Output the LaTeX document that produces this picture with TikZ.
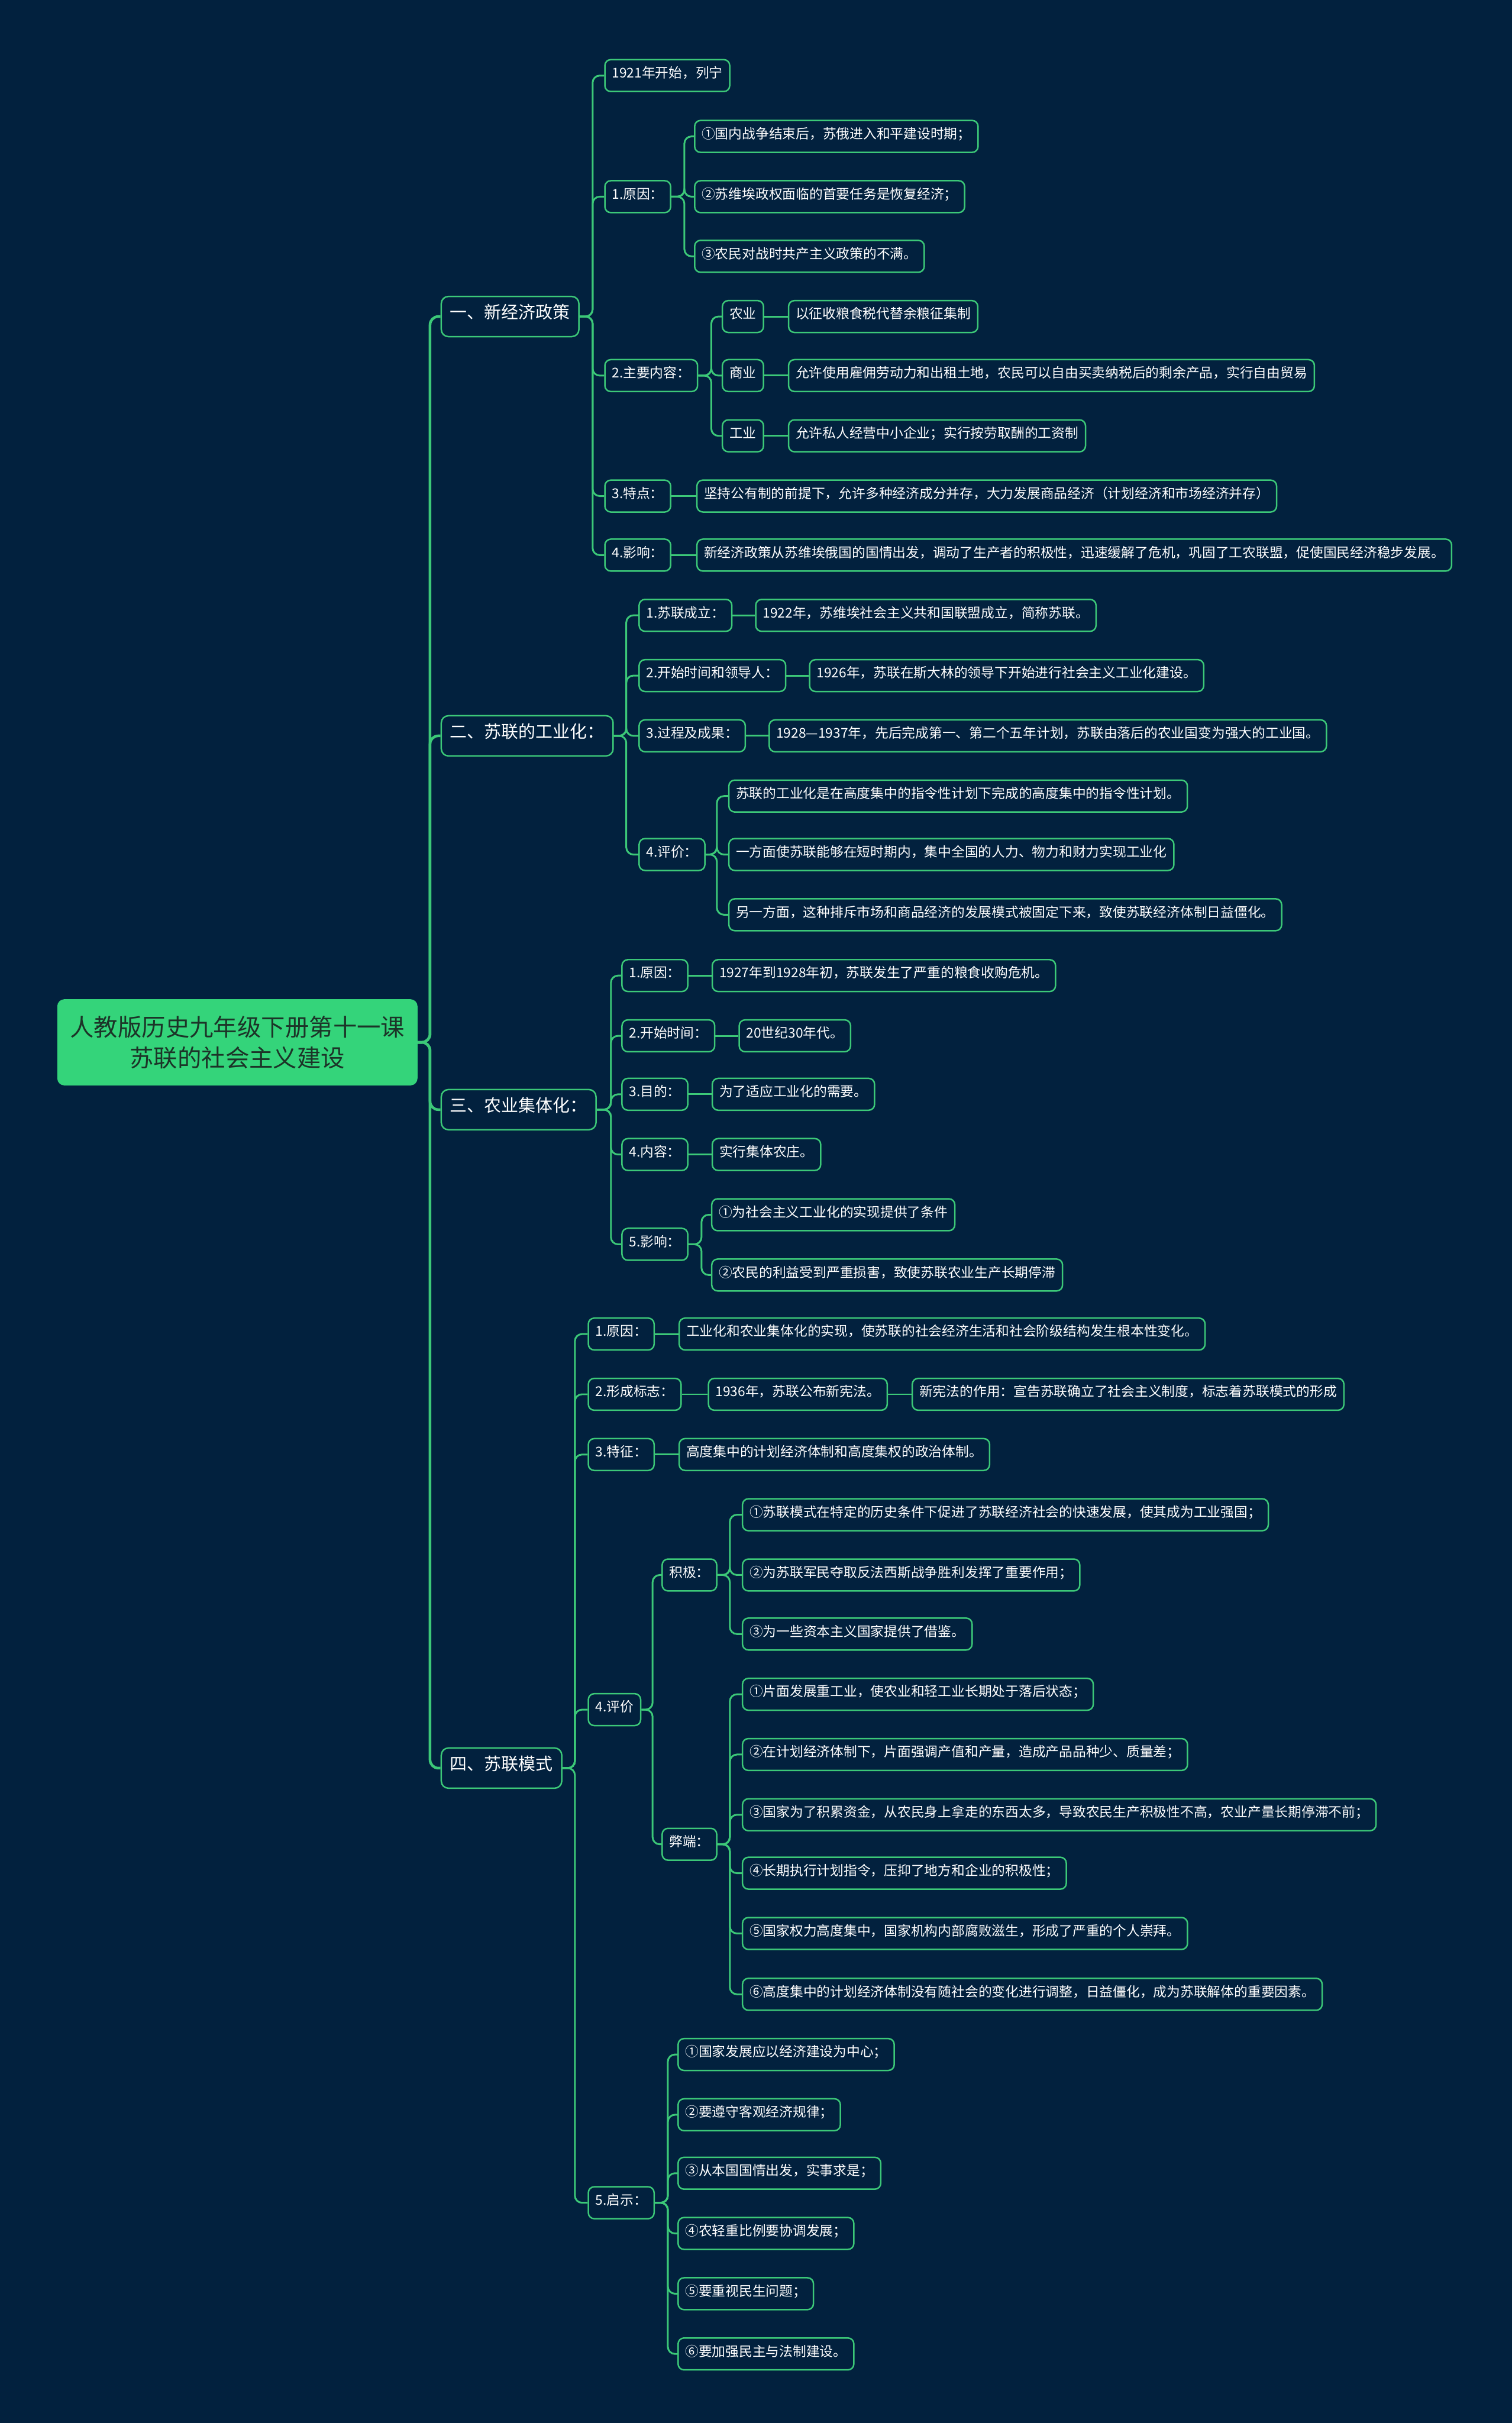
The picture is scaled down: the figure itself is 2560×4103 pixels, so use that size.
\documentclass[tikz,border=0pt]{standalone}
\usepackage{fontspec}
\setmainfont{Noto Sans CJK SC}
\usetikzlibrary{positioning}
\definecolor{navy}{RGB}{2,33,62}
\definecolor{mint}{RGB}{60,200,120}
\definecolor{rootgreen}{RGB}{52,212,122}
\definecolor{rootink}{RGB}{28,52,40}
\begin{document}
\begin{tikzpicture}[x=1pt,y=-1pt,every node/.style={text=white,inner ysep=0pt},root/.style={fill=rootgreen,rounded corners=12pt,text=rootink,font=\fontsize{40.5}{52}\selectfont,align=center,minimum width=610pt,minimum height=146pt},branch/.style={draw=mint,line width=2.5pt,fill=navy,rounded corners=12pt,font=\fontsize{29}{36}\selectfont,text height=0.88em,text depth=0.12em,inner xsep=15pt,minimum height=68pt,anchor=west},leaf/.style={draw=mint,line width=2.5pt,fill=navy,rounded corners=10pt,font=\fontsize{22.8}{28}\selectfont,text height=0.88em,text depth=0.12em,inner xsep=12pt,minimum height=54pt,anchor=west},trunk/.style={draw=mint,line width=4.5pt,rounded corners=14pt},link/.style={draw=mint,line width=3pt,rounded corners=12pt}]
\useasboundingbox (0,0) rectangle (2560,4103);
\fill[navy] (0,0) rectangle (2560,4103);
\begin{scope}[yshift=-5pt]
% root and main branches
\node[root] (R) at (402,1760) {人教版历史九年级下册第十一课\\苏联的社会主义建设};
\node[branch] (B1) at (746,531) {一、新经济政策};\node[branch] (B2) at (746,1241) {二、苏联的工业化：};\node[branch] (B3) at (746,1874) {三、农业集体化：};\node[branch] (B4) at (746,2989) {四、苏联模式};
\draw[trunk] (R.east) -- ++(21,0) |- (B1.west);\draw[trunk] (R.east) -- ++(21,0) |- (B2.west);\draw[trunk] (R.east) -- ++(21,0) |- (B3.west);\draw[trunk] (R.east) -- ++(21,0) |- (B4.west);
% 一、新经济政策
\node[leaf] (B1a) at (1023,123) {1921年开始，列宁};\node[leaf] (B1b) at (1023,328) {1.原因：};\node[leaf] (B1c) at (1023,631) {2.主要内容：};\node[leaf] (B1d) at (1023,835) {3.特点：};\node[leaf] (B1e) at (1023,935) {4.影响：};
\draw[link] (B1.east) -- ++(22,0) |- (B1a.west);\draw[link] (B1.east) -- ++(22,0) |- (B1b.west);\draw[link] (B1.east) -- ++(22,0) |- (B1c.west);\draw[link] (B1.east) -- ++(22,0) |- (B1d.west);\draw[link] (B1.east) -- ++(22,0) |- (B1e.west);
\node[leaf] (B1b1) at (1175,226) {①国内战争结束后，苏俄进入和平建设时期；};\node[leaf] (B1b2) at (1175,328) {②苏维埃政权面临的首要任务是恢复经济；};\node[leaf] (B1b3) at (1175,429) {③农民对战时共产主义政策的不满。};
\draw[link] (B1b.east) -- ++(22,0) |- (B1b1.west);\draw[link] (B1b.east) -- ++(22,0) |- (B1b2.west);\draw[link] (B1b.east) -- ++(22,0) |- (B1b3.west);
\node[leaf] (NY) at (1222,531) {农业};\node[leaf] (SY) at (1222,631) {商业};\node[leaf] (GY) at (1222,733) {工业};
\draw[link] (B1c.east) -- ++(22,0) |- (NY.west);\draw[link] (B1c.east) -- ++(22,0) |- (SY.west);\draw[link] (B1c.east) -- ++(22,0) |- (GY.west);
\node[leaf,right=40pt of NY] (NYx) {以征收粮食税代替余粮征集制};\node[leaf,right=40pt of SY] (SYx) {允许使用雇佣劳动力和出租土地，农民可以自由买卖纳税后的剩余产品，实行自由贸易};\node[leaf,right=40pt of GY] (GYx) {允许私人经营中小企业；实行按劳取酬的工资制};
\draw[link] (NY) -- (NYx);\draw[link] (SY) -- (SYx);\draw[link] (GY) -- (GYx);
\node[leaf,right=42pt of B1d] (B1dx) {坚持公有制的前提下，允许多种经济成分并存，大力发展商品经济（计划经济和市场经济并存）};\node[leaf,right=42pt of B1e] (B1ex) {新经济政策从苏维埃俄国的国情出发，调动了生产者的积极性，迅速缓解了危机，巩固了工农联盟，促使国民经济稳步发展。};
\draw[link] (B1d) -- (B1dx);\draw[link] (B1e) -- (B1ex);
% 二、苏联的工业化
\node[leaf] (B2a) at (1081,1037) {1.苏联成立：};\node[leaf] (B2b) at (1081,1139) {2.开始时间和领导人：};\node[leaf] (B2c) at (1081,1241) {3.过程及成果：};\node[leaf] (B2d) at (1081,1442) {4.评价：};
\draw[link] (B2.east) -- ++(21,0) |- (B2a.west);\draw[link] (B2.east) -- ++(21,0) |- (B2b.west);\draw[link] (B2.east) -- ++(21,0) |- (B2c.west);\draw[link] (B2.east) -- ++(21,0) |- (B2d.west);
\node[leaf,right=38pt of B2a] (B2ax) {1922年，苏维埃社会主义共和国联盟成立，简称苏联。};\node[leaf,right=38pt of B2b] (B2bx) {1926年，苏联在斯大林的领导下开始进行社会主义工业化建设。};\node[leaf,right=38pt of B2c] (B2cx) {1928—1937年，先后完成第一、第二个五年计划，苏联由落后的农业国变为强大的工业国。};
\draw[link] (B2a) -- (B2ax);\draw[link] (B2b) -- (B2bx);\draw[link] (B2c) -- (B2cx);
\node[leaf] (B2d1) at (1233,1343) {苏联的工业化是在高度集中的指令性计划下完成的高度集中的指令性计划。};\node[leaf] (B2d2) at (1233,1442) {一方面使苏联能够在短时期内，集中全国的人力、物力和财力实现工业化};\node[leaf] (B2d3) at (1233,1544) {另一方面，这种排斥市场和商品经济的发展模式被固定下来，致使苏联经济体制日益僵化。};
\draw[link] (B2d.east) -- ++(19,0) |- (B2d1.west);\draw[link] (B2d.east) -- ++(19,0) |- (B2d2.west);\draw[link] (B2d.east) -- ++(19,0) |- (B2d3.west);
% 三、农业集体化
\node[leaf] (B3a) at (1052,1647) {1.原因：};\node[leaf] (B3b) at (1052,1749) {2.开始时间：};\node[leaf] (B3c) at (1052,1848) {3.目的：};\node[leaf] (B3d) at (1052,1950) {4.内容：};\node[leaf] (B3e) at (1052,2102) {5.影响：};
\draw[link] (B3.east) -- ++(24,0) |- (B3a.west);\draw[link] (B3.east) -- ++(24,0) |- (B3b.west);\draw[link] (B3.east) -- ++(24,0) |- (B3c.west);\draw[link] (B3.east) -- ++(24,0) |- (B3d.west);\draw[link] (B3.east) -- ++(24,0) |- (B3e.west);
\node[leaf,right=39pt of B3a] (B3ax) {1927年到1928年初，苏联发生了严重的粮食收购危机。};\node[leaf,right=39pt of B3b] (B3bx) {20世纪30年代。};\node[leaf,right=39pt of B3c] (B3cx) {为了适应工业化的需要。};\node[leaf,right=39pt of B3d] (B3dx) {实行集体农庄。};
\draw[link] (B3a) -- (B3ax);\draw[link] (B3b) -- (B3bx);\draw[link] (B3c) -- (B3cx);\draw[link] (B3d) -- (B3dx);
\node[leaf] (B3e1) at (1204,2052) {①为社会主义工业化的实现提供了条件};\node[leaf] (B3e2) at (1204,2154) {②农民的利益受到严重损害，致使苏联农业生产长期停滞};
\draw[link] (B3e.east) -- ++(22,0) |- (B3e1.west);\draw[link] (B3e.east) -- ++(22,0) |- (B3e2.west);
% 四、苏联模式
\node[leaf] (B4a) at (995,2254) {1.原因：};\node[leaf] (B4b) at (995,2356) {2.形成标志：};\node[leaf] (B4c) at (995,2458) {3.特征：};\node[leaf] (B4d) at (995,2890) {4.评价};\node[leaf] (B4e) at (995,3725) {5.启示：};
\draw[link] (B4.east) -- ++(21,0) |- (B4a.west);\draw[link] (B4.east) -- ++(21,0) |- (B4b.west);\draw[link] (B4.east) -- ++(21,0) |- (B4c.west);\draw[link] (B4.east) -- ++(21,0) |- (B4d.west);\draw[link] (B4.east) -- ++(21,0) |- (B4e.west);
\node[leaf,right=40pt of B4a] (B4ax) {工业化和农业集体化的实现，使苏联的社会经济生活和社会阶级结构发生根本性变化。};\node[leaf,right=44pt of B4b] (B4bx) {1936年，苏联公布新宪法。};\node[leaf,right=40pt of B4bx] (B4by) {新宪法的作用：宣告苏联确立了社会主义制度，标志着苏联模式的形成};\node[leaf,right=40pt of B4c] (B4cx) {高度集中的计划经济体制和高度集权的政治体制。};
\draw[link] (B4a) -- (B4ax);\draw[link] (B4b) -- (B4bx);\draw[link] (B4bx) -- (B4by);\draw[link] (B4c) -- (B4cx);
\node[leaf] (JJ) at (1120,2662) {积极：};\node[leaf] (BD) at (1120,3118) {弊端：};
\draw[link] (B4d.east) -- ++(19,0) |- (JJ.west);\draw[link] (B4d.east) -- ++(19,0) |- (BD.west);
\node[leaf] (JJ1) at (1256,2560) {①苏联模式在特定的历史条件下促进了苏联经济社会的快速发展，使其成为工业强国；};\node[leaf] (JJ2) at (1256,2662) {②为苏联军民夺取反法西斯战争胜利发挥了重要作用；};\node[leaf] (JJ3) at (1256,2762) {③为一些资本主义国家提供了借鉴。};
\draw[link] (JJ.east) -- ++(21,0) |- (JJ1.west);\draw[link] (JJ.east) -- ++(21,0) |- (JJ2.west);\draw[link] (JJ.east) -- ++(21,0) |- (JJ3.west);
\node[leaf] (BD1) at (1256,2864) {①片面发展重工业，使农业和轻工业长期处于落后状态；};\node[leaf] (BD2) at (1256,2966) {②在计划经济体制下，片面强调产值和产量，造成产品品种少、质量差；};\node[leaf] (BD3) at (1256,3068) {③国家为了积累资金，从农民身上拿走的东西太多，导致农民生产积极性不高，农业产量长期停滞不前；};
\node[leaf] (BD4) at (1256,3167) {④长期执行计划指令，压抑了地方和企业的积极性；};\node[leaf] (BD5) at (1256,3269) {⑤国家权力高度集中，国家机构内部腐败滋生，形成了严重的个人崇拜。};\node[leaf] (BD6) at (1256,3372) {⑥高度集中的计划经济体制没有随社会的变化进行调整，日益僵化，成为苏联解体的重要因素。};
\draw[link] (BD.east) -- ++(21,0) |- (BD1.west);\draw[link] (BD.east) -- ++(21,0) |- (BD2.west);\draw[link] (BD.east) -- ++(21,0) |- (BD3.west);\draw[link] (BD.east) -- ++(21,0) |- (BD4.west);\draw[link] (BD.east) -- ++(21,0) |- (BD5.west);\draw[link] (BD.east) -- ++(21,0) |- (BD6.west);
\node[leaf] (QS1) at (1147,3474) {①国家发展应以经济建设为中心；};\node[leaf] (QS2) at (1147,3576) {②要遵守客观经济规律；};\node[leaf] (QS3) at (1147,3675) {③从本国国情出发，实事求是；};\node[leaf] (QS4) at (1147,3777) {④农轻重比例要协调发展；};\node[leaf] (QS5) at (1147,3879) {⑤要重视民生问题；};\node[leaf] (QS6) at (1147,3981) {⑥要加强民主与法制建设。};
\draw[link] (B4e.east) -- ++(22,0) |- (QS1.west);\draw[link] (B4e.east) -- ++(22,0) |- (QS2.west);\draw[link] (B4e.east) -- ++(22,0) |- (QS3.west);\draw[link] (B4e.east) -- ++(22,0) |- (QS4.west);\draw[link] (B4e.east) -- ++(22,0) |- (QS5.west);\draw[link] (B4e.east) -- ++(22,0) |- (QS6.west);
\end{scope}
\end{tikzpicture}
\end{document}
